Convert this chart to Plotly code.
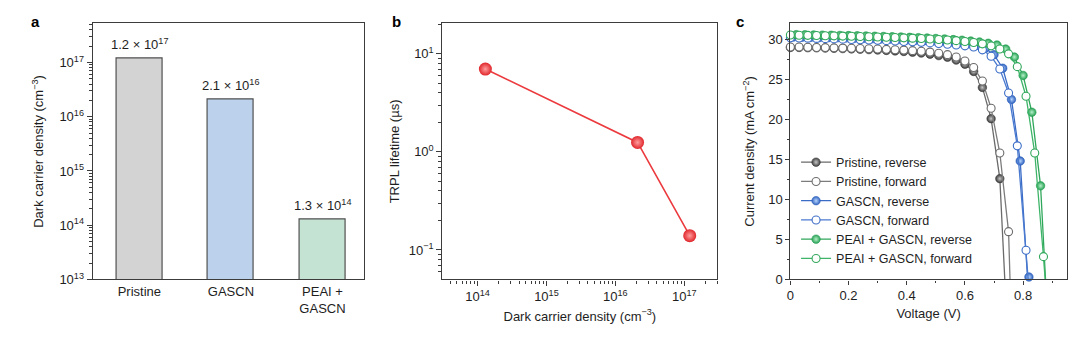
import math
import plotly.graph_objects as go

# ---------------- data ----------------
# (a) dark carrier density of each film
samples = ["Pristine", "GASCN", "PEAI + GASCN"]
sample_ticktext = ["Pristine", "GASCN", "PEAI +<br>GASCN"]
carrier_density = [1.2e17, 2.1e16, 1.3e14]
bar_colors = ["#d3d3d3", "#bcd2ec", "#c5e3d3"]

# (b) TRPL lifetime (µs) of the same films
trpl_lifetime = [0.14, 1.25, 7.0]

density_exponents = [13, 14, 15, 16, 17]
density_axis_b_exponents = [14, 15, 16, 17]
lifetime_exponents = [-1, 0, 1]

# (c) J–V curves (V in volts, J in mA cm^-2)
pristine_rev_v = [0.00, 0.03, 0.06, 0.09, 0.12, 0.15, 0.18, 0.21, 0.24, 0.27, 0.30, 0.33, 0.36,
                  0.39, 0.42, 0.45, 0.48, 0.51, 0.54, 0.57, 0.60, 0.63, 0.66, 0.69, 0.72, 0.75]
pristine_rev_j = [29.00, 29.00, 28.97, 28.95, 28.92, 28.89, 28.86, 28.82, 28.78, 28.73, 28.68, 28.63, 28.57,
                  28.50, 28.41, 28.30, 28.16, 27.98, 27.78, 27.42, 26.90, 26.00, 24.00, 20.10, 12.60, -9.60]

pristine_fwd_v = [0.00, 0.03, 0.06, 0.09, 0.12, 0.15, 0.18, 0.21, 0.24, 0.27, 0.30, 0.33, 0.36,
                  0.39, 0.42, 0.45, 0.48, 0.51, 0.54, 0.57, 0.60, 0.63, 0.66, 0.69, 0.72, 0.75, 0.78]
pristine_fwd_j = [29.05, 29.05, 29.02, 29.00, 28.98, 28.95, 28.92, 28.90, 28.87, 28.84, 28.80, 28.76, 28.72,
                  28.67, 28.60, 28.52, 28.42, 28.28, 28.10, 27.80, 27.30, 26.50, 24.80, 21.40, 15.80, 5.97, -30.0]

gascn_rev_v = [0.01, 0.04, 0.07, 0.10, 0.13, 0.16, 0.19, 0.22, 0.25, 0.28, 0.31, 0.34, 0.37, 0.40, 0.43,
               0.46, 0.49, 0.52, 0.55, 0.58, 0.61, 0.64, 0.67, 0.70, 0.73, 0.76, 0.79, 0.82, 0.85]
gascn_rev_j = [30.30, 30.28, 30.26, 30.24, 30.22, 30.20, 30.17, 30.14, 30.11, 30.08, 30.05, 30.02, 29.98, 29.94, 29.90,
               29.85, 29.80, 29.74, 29.67, 29.58, 29.45, 29.25, 28.90, 28.10, 26.40, 22.50, 14.80, 0.30, -20.0]

gascn_fwd_v = [0.00, 0.03, 0.06, 0.09, 0.12, 0.15, 0.18, 0.21, 0.24, 0.27, 0.30, 0.33, 0.36, 0.39, 0.42,
               0.45, 0.48, 0.51, 0.54, 0.57, 0.60, 0.63, 0.66, 0.69, 0.72, 0.75, 0.78, 0.81, 0.84]
gascn_fwd_j = [30.20, 30.18, 30.16, 30.13, 30.10, 30.07, 30.04, 30.00, 29.97, 29.93, 29.89, 29.85, 29.80, 29.75, 29.70,
               29.64, 29.57, 29.49, 29.40, 29.30, 29.20, 29.05, 28.70, 27.90, 26.30, 23.30, 16.70, 3.65, -10.0]

peai_rev_v = [0.02, 0.05, 0.08, 0.11, 0.14, 0.17, 0.20, 0.23, 0.26, 0.29, 0.32, 0.35, 0.38, 0.41, 0.44,
              0.47, 0.50, 0.53, 0.56, 0.59, 0.62, 0.65, 0.68, 0.71, 0.74, 0.77, 0.80, 0.83, 0.86, 0.89]
peai_rev_j = [30.60, 30.58, 30.56, 30.54, 30.52, 30.50, 30.48, 30.46, 30.43, 30.40, 30.37, 30.34, 30.30, 30.26, 30.22,
              30.17, 30.12, 30.06, 29.98, 29.90, 29.80, 29.68, 29.52, 29.30, 28.80, 27.80, 25.50, 20.90, 11.70, -8.90]

peai_fwd_v = [0.00, 0.03, 0.06, 0.09, 0.12, 0.15, 0.18, 0.21, 0.24, 0.27, 0.30, 0.33, 0.36, 0.39, 0.42, 0.45,
              0.48, 0.51, 0.54, 0.57, 0.60, 0.63, 0.66, 0.69, 0.72, 0.75, 0.78, 0.81, 0.84, 0.87, 0.90]
peai_fwd_j = [30.55, 30.53, 30.51, 30.49, 30.47, 30.45, 30.42, 30.40, 30.37, 30.34, 30.31, 30.28, 30.24, 30.20, 30.16, 30.11,
              30.06, 30.00, 29.93, 29.85, 29.75, 29.62, 29.45, 29.20, 28.80, 28.20, 26.60, 22.90, 15.80, 2.85, -12.0]

# ---------------- styling ----------------
FONT = "Liberation Sans, Arial, Helvetica, sans-serif"
AXIS_COLOR = "#3c3c3c"
TEXT_COLOR = "#1e1e1e"
TOP, BOTTOM = 1 - 24 / 348, 1 - 286 / 348


def pow10_label(e):
    return "10<sup>%s</sup>" % (("\u2212%d" % -e) if e < 0 else "%d" % e)


def sci_label(value):
    e = int(math.floor(math.log10(value)))
    return "%.1f \u00d7 %s" % (value / 10 ** e, pow10_label(e))


fig = go.Figure()

# ----- (a) bars -----
fig.add_trace(go.Bar(
    x=samples, y=carrier_density, width=0.5,
    marker=dict(color=bar_colors, line=dict(color="#505050", width=1.2)),
    xaxis="x", yaxis="y", showlegend=False,
))

# ----- (b) lifetime vs density -----
fig.add_trace(go.Scatter(
    x=carrier_density, y=trpl_lifetime, mode="lines+markers",
    line=dict(color="#ec3b3f", width=1.6),
    marker=dict(size=13, color="#e0262b",
                gradient=dict(type="radial", color="#ff9d9d"),
                line=dict(width=0)),
    xaxis="x2", yaxis="y2", showlegend=False,
))

# ----- (c) J–V curves -----
# name, V, J, line colour, marker colour, highlight colour (None = open marker)
jv_series = [
    ("Pristine, reverse", pristine_rev_v, pristine_rev_j, "#6a6a6a", "#3a3a3a", "#c8c8c8"),
    ("Pristine, forward", pristine_fwd_v, pristine_fwd_j, "#7c7c7c", "#6a6a6a", None),
    ("GASCN, reverse", gascn_rev_v, gascn_rev_j, "#3a6cc6", "#2c5fbd", "#b8d7ff"),
    ("GASCN, forward", gascn_fwd_v, gascn_fwd_j, "#4a7ad0", "#3a6cc6", None),
    ("PEAI + GASCN, reverse", peai_rev_v, peai_rev_j, "#2fa75a", "#25a052", "#b4f0c8"),
    ("PEAI + GASCN, forward", peai_fwd_v, peai_fwd_j, "#3db468", "#2fa75a", None),
]
for name, v, j, line_col, mark_col, glow in jv_series:
    # markers below J = 0 fall outside the axes; hide them while keeping the line
    visible = [1 if val >= 0 else 0 for val in j]
    if glow:
        marker = dict(size=8.5, color=mark_col, opacity=visible,
                      gradient=dict(type="radial", color=glow),
                      line=dict(width=0.6, color=mark_col))
    else:
        marker = dict(size=8, color="white", opacity=visible,
                      line=dict(width=1.1, color=mark_col))
    fig.add_trace(go.Scatter(
        x=v, y=j, name=name, mode="lines+markers",
        line=dict(color=line_col, width=1.3), marker=marker,
        cliponaxis=False, xaxis="x3", yaxis="y3",
    ))

axis_common = dict(
    showline=True, linecolor=AXIS_COLOR, linewidth=1.2, mirror=True,
    showgrid=False, zeroline=False,
    tickfont=dict(family=FONT, size=13, color=TEXT_COLOR),
    title_font=dict(family=FONT, size=13, color=TEXT_COLOR),
    tickcolor=AXIS_COLOR,
)
log_minor = dict(ticks="outside", ticklen=3, tickcolor=AXIS_COLOR, dtick="D1", showgrid=False)

fig.update_layout(
    width=1080, height=348,
    margin=dict(l=0, r=0, t=0, b=0),
    paper_bgcolor="white", plot_bgcolor="white",
    font=dict(family=FONT, size=13, color=TEXT_COLOR),
    bargap=0,
    xaxis=dict(axis_common, domain=[89 / 1080, 361 / 1080], anchor="y",
               range=[-0.51, 2.45], ticks="",
               tickmode="array", tickvals=samples, ticktext=sample_ticktext),
    yaxis=dict(axis_common, domain=[BOTTOM, TOP], anchor="x", type="log",
               range=[13, 17.72], ticks="outside", ticklen=5,
               tickmode="array", tickvals=[10 ** e for e in density_exponents],
               ticktext=[pow10_label(e) for e in density_exponents],
               minor=log_minor,
               title=dict(text="Dark carrier density (cm<sup>\u22123</sup>)", standoff=12)),
    xaxis2=dict(axis_common, domain=[440 / 1080, 716 / 1080], anchor="y2", type="log",
                range=[13.49, 17.48], ticks="outside", ticklen=5,
                tickmode="array", tickvals=[10 ** e for e in density_axis_b_exponents],
                ticktext=[pow10_label(e) for e in density_axis_b_exponents],
                minor=log_minor,
                title=dict(text="Dark carrier density (cm<sup>\u22123</sup>)", standoff=8)),
    yaxis2=dict(axis_common, domain=[BOTTOM, TOP], anchor="x2", type="log",
                range=[-1.3, 1.31], ticks="outside", ticklen=5,
                tickmode="array", tickvals=[10 ** e for e in lifetime_exponents],
                ticktext=[pow10_label(e) for e in lifetime_exponents],
                minor=log_minor,
                title=dict(text="TRPL lifetime (\u00b5s)", standoff=6)),
    xaxis3=dict(axis_common, domain=[789.3 / 1080, 1066.7 / 1080], anchor="y3",
                range=[0, 0.95], ticks="outside", ticklen=4, dtick=0.2, tick0=0,
                tickformat="~g",
                minor=dict(ticks="outside", ticklen=2.5, dtick=0.1, tickcolor=AXIS_COLOR, showgrid=False),
                title=dict(text="Voltage (V)", standoff=6)),
    yaxis3=dict(axis_common, domain=[BOTTOM, TOP], anchor="x3",
                range=[0, 32], ticks="outside", ticklen=4, dtick=5, tick0=0,
                minor=dict(ticks="outside", ticklen=2.5, dtick=2.5, tickcolor=AXIS_COLOR, showgrid=False),
                title=dict(text="Current density (mA cm<sup>\u22122</sup>)", standoff=10)),
    legend=dict(x=795 / 1080, y=1 - 280 / 348, xanchor="left", yanchor="bottom",
                bgcolor="rgba(0,0,0,0)", borderwidth=0,
                font=dict(family=FONT, size=12.5, color=TEXT_COLOR),
                itemwidth=30, tracegroupgap=0),
)

annotations = []
# value labels above bars
for s, val in zip(samples, carrier_density):
    annotations.append(dict(x=s, y=math.log10(val), xref="x", yref="y",
                            text=sci_label(val), showarrow=False,
                            yanchor="bottom", yshift=4,
                            font=dict(family=FONT, size=13, color=TEXT_COLOR)))
# panel letters
for letter, px in (("a", 25), ("b", 387), ("c", 733)):
    annotations.append(dict(x=px / 1080, y=1 - 22 / 348, xref="paper", yref="paper",
                            text="<b>%s</b>" % letter, showarrow=False,
                            xanchor="left", yanchor="middle",
                            font=dict(family=FONT, size=15, color="#000000")))
fig.update_layout(annotations=annotations)

fig.write_html("out.html")
